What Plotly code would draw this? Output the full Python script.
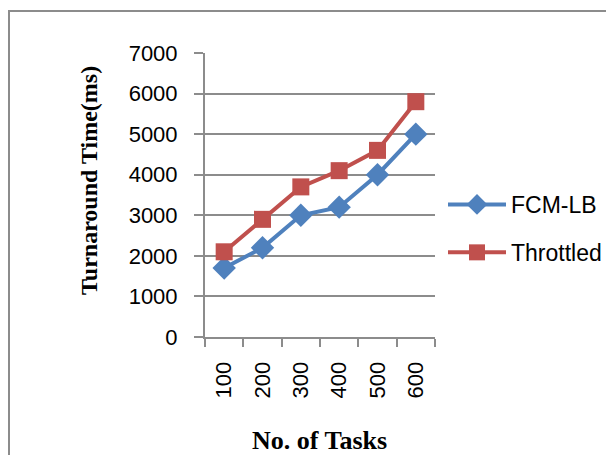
import plotly.graph_objects as go

# Chart data
tasks = ["100", "200", "300", "400", "500", "600"]
fcm_lb = [1700, 2200, 3000, 3200, 4000, 5000]
throttled = [2100, 2900, 3700, 4100, 4600, 5800]
y_ticks = [0, 1000, 2000, 3000, 4000, 5000, 6000, 7000]

BLUE = "#4F81BD"
RED = "#C0504D"
GRID = "#8C8C8C"
SANS = "Liberation Sans, Arial, sans-serif"
SERIF = "Liberation Serif, Times New Roman, serif"

fig = go.Figure()
fig.add_trace(go.Scatter(
    x=tasks, y=fcm_lb, name="FCM-LB", mode="lines+markers",
    legendgroup="fcm",
    line=dict(color=BLUE, width=4),
    marker=dict(symbol="diamond", size=18, color=BLUE),
))
fig.add_trace(go.Scatter(
    x=tasks, y=throttled, name="Throttled", mode="lines+markers",
    legendgroup="thr",
    line=dict(color=RED, width=4),
    marker=dict(symbol="square", size=17, color=RED),
))

# plot area in pixels: x 205..435, y 53..337
L, R, T, B = 205, 435, 53, 337
W, H = 606, 455
pw, ph = R - L, B - T

def px_x(p):
    return (p - L) / pw

def px_y(p):
    return (B - p) / ph

fig.update_layout(
    width=W, height=H,
    margin=dict(l=L, r=W - R, t=T, b=H - B, autoexpand=False),
    paper_bgcolor="white", plot_bgcolor="white",
    showlegend=True,
    legend=dict(
        x=px_x(443), y=px_y(183), xanchor="left", yanchor="top",
        font=dict(family=SANS, size=23, color="black"),
        itemwidth=58, tracegroupgap=15, bgcolor="rgba(0,0,0,0)",
    ),
    xaxis=dict(
        type="category", range=[-0.5, 5.5],
        showline=True, linecolor=GRID, linewidth=2,
        ticks="outside", tickson="boundaries", ticklen=8,
        tickcolor=GRID, tickwidth=2,
        tickangle=-90, ticklabelstandoff=14,
        tickfont=dict(family=SANS, size=22, color="black"),
        showgrid=False, zeroline=False,
    ),
    yaxis=dict(
        range=[0, 7000], tickvals=y_ticks,
        showline=True, linecolor=GRID, linewidth=2,
        ticks="outside", ticklen=9, tickcolor=GRID, tickwidth=2,
        ticklabelstandoff=12,
        tickfont=dict(family=SANS, size=22, color="black"),
        showgrid=True, gridcolor=GRID, gridwidth=2,
        zeroline=False,
    ),
    annotations=[
        dict(text="<b>No. of Tasks</b>", xref="paper", yref="paper",
             x=px_x(319), y=px_y(440), xanchor="center", yanchor="middle",
             showarrow=False, font=dict(family=SERIF, size=26, color="black")),
        dict(text="<b>Turnaround Time(ms)</b>", xref="paper", yref="paper",
             x=px_x(89), y=px_y(181), xanchor="center", yanchor="middle",
             textangle=-90, showarrow=False,
             font=dict(family=SERIF, size=24, color="black")),
    ],
    shapes=[
        dict(type="rect", xref="paper", yref="paper",
             x0=px_x(9), x1=px_x(640), y0=px_y(11), y1=px_y(500),
             line=dict(color="#8C8C8C", width=2), layer="below"),
    ],
)

fig.write_html("out.html")
